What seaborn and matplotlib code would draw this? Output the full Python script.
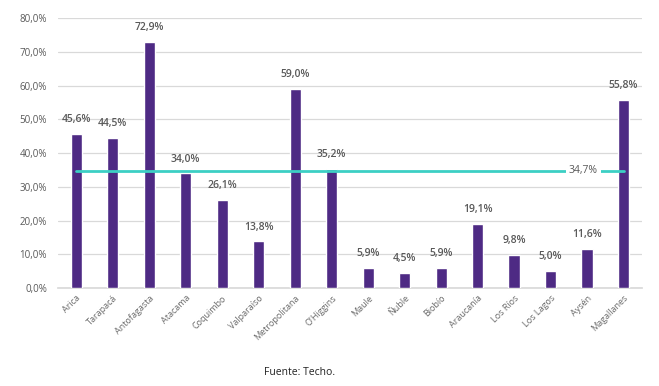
import matplotlib
matplotlib.use("Agg")
import matplotlib.pyplot as plt
import seaborn as sns
import pandas as pd
from matplotlib.ticker import FuncFormatter

regions = ["Arica", "Tarapacá", "Antofagasta", "Atacama", "Coquimbo", "Valparaíso",
           "Metropolitana", "O'Higgins", "Maule", "Ñuble", "Biobío", "Araucanía",
           "Los Ríos", "Los Lagos", "Aysén", "Magallanes"]
values = [45.6, 44.5, 72.9, 34.0, 26.1, 13.8, 59.0, 35.2, 5.9, 4.5, 5.9, 19.1,
          9.8, 5.0, 11.6, 55.8]
average = 34.7
source = "Fuente: Techo."

sns.set_theme(style="white")
plt.rcParams['font.family'] = ['Open Sans', 'DejaVu Sans']

df = pd.DataFrame({"region": regions, "value": values})

fig = plt.figure(figsize=(6.59, 3.86), dpi=100)
ax = fig.add_axes([0.088, 0.254, 0.886, 0.699])

bar_color = "#4E2A84"
sns.barplot(data=df, x="region", y="value", color=bar_color, width=0.31,
            saturation=1, ax=ax, zorder=3)

ax.set_xlim(-0.5, len(regions) - 0.5)
ax.set_ylim(0, 80)
ax.set_yticks(range(0, 81, 10))
ax.yaxis.set_major_formatter(FuncFormatter(lambda v, p: f"{v:.1f}%".replace(".", ",")))
ax.grid(axis="y", color="#D9D9D9", linewidth=0.9, zorder=0)
ax.set_axisbelow(True)
for s in ["top", "right", "left"]:
    ax.spines[s].set_visible(False)
ax.spines["bottom"].set_color("#D9D9D9")
ax.set_xlabel("")
ax.set_ylabel("")
ax.tick_params(axis="y", labelsize=7, labelcolor="#595959", length=0, pad=8)
ax.tick_params(axis="x", labelsize=6.5, labelcolor="#6a6a6a", length=0, pad=4)
for lbl in ax.get_xticklabels():
    lbl.set_rotation(45)
    lbl.set_ha("right")
    lbl.set_rotation_mode("anchor")

for i, v in enumerate(values):
    ax.text(i, v + 2.6, f"{v:.1f}%".replace(".", ","), ha="center", va="bottom",
            fontsize=7.5, color="#595959", fontweight="semibold", zorder=4)

line_color = "#3CCFC4"
ax.plot([0, len(regions) - 1], [average, average], color=line_color, linewidth=2, zorder=4)
ax.text(13.9, average, f"{average:.1f}%".replace(".", ","), ha="center",
        va="center", fontsize=7.5, color="#595959", zorder=5,
        bbox=dict(facecolor="white", edgecolor="none", pad=2.5))

fig.text(0.455, 0.035, source, ha="center", va="center", fontsize=7.5, color="#222222")

fig.savefig("out.png", dpi=100)
